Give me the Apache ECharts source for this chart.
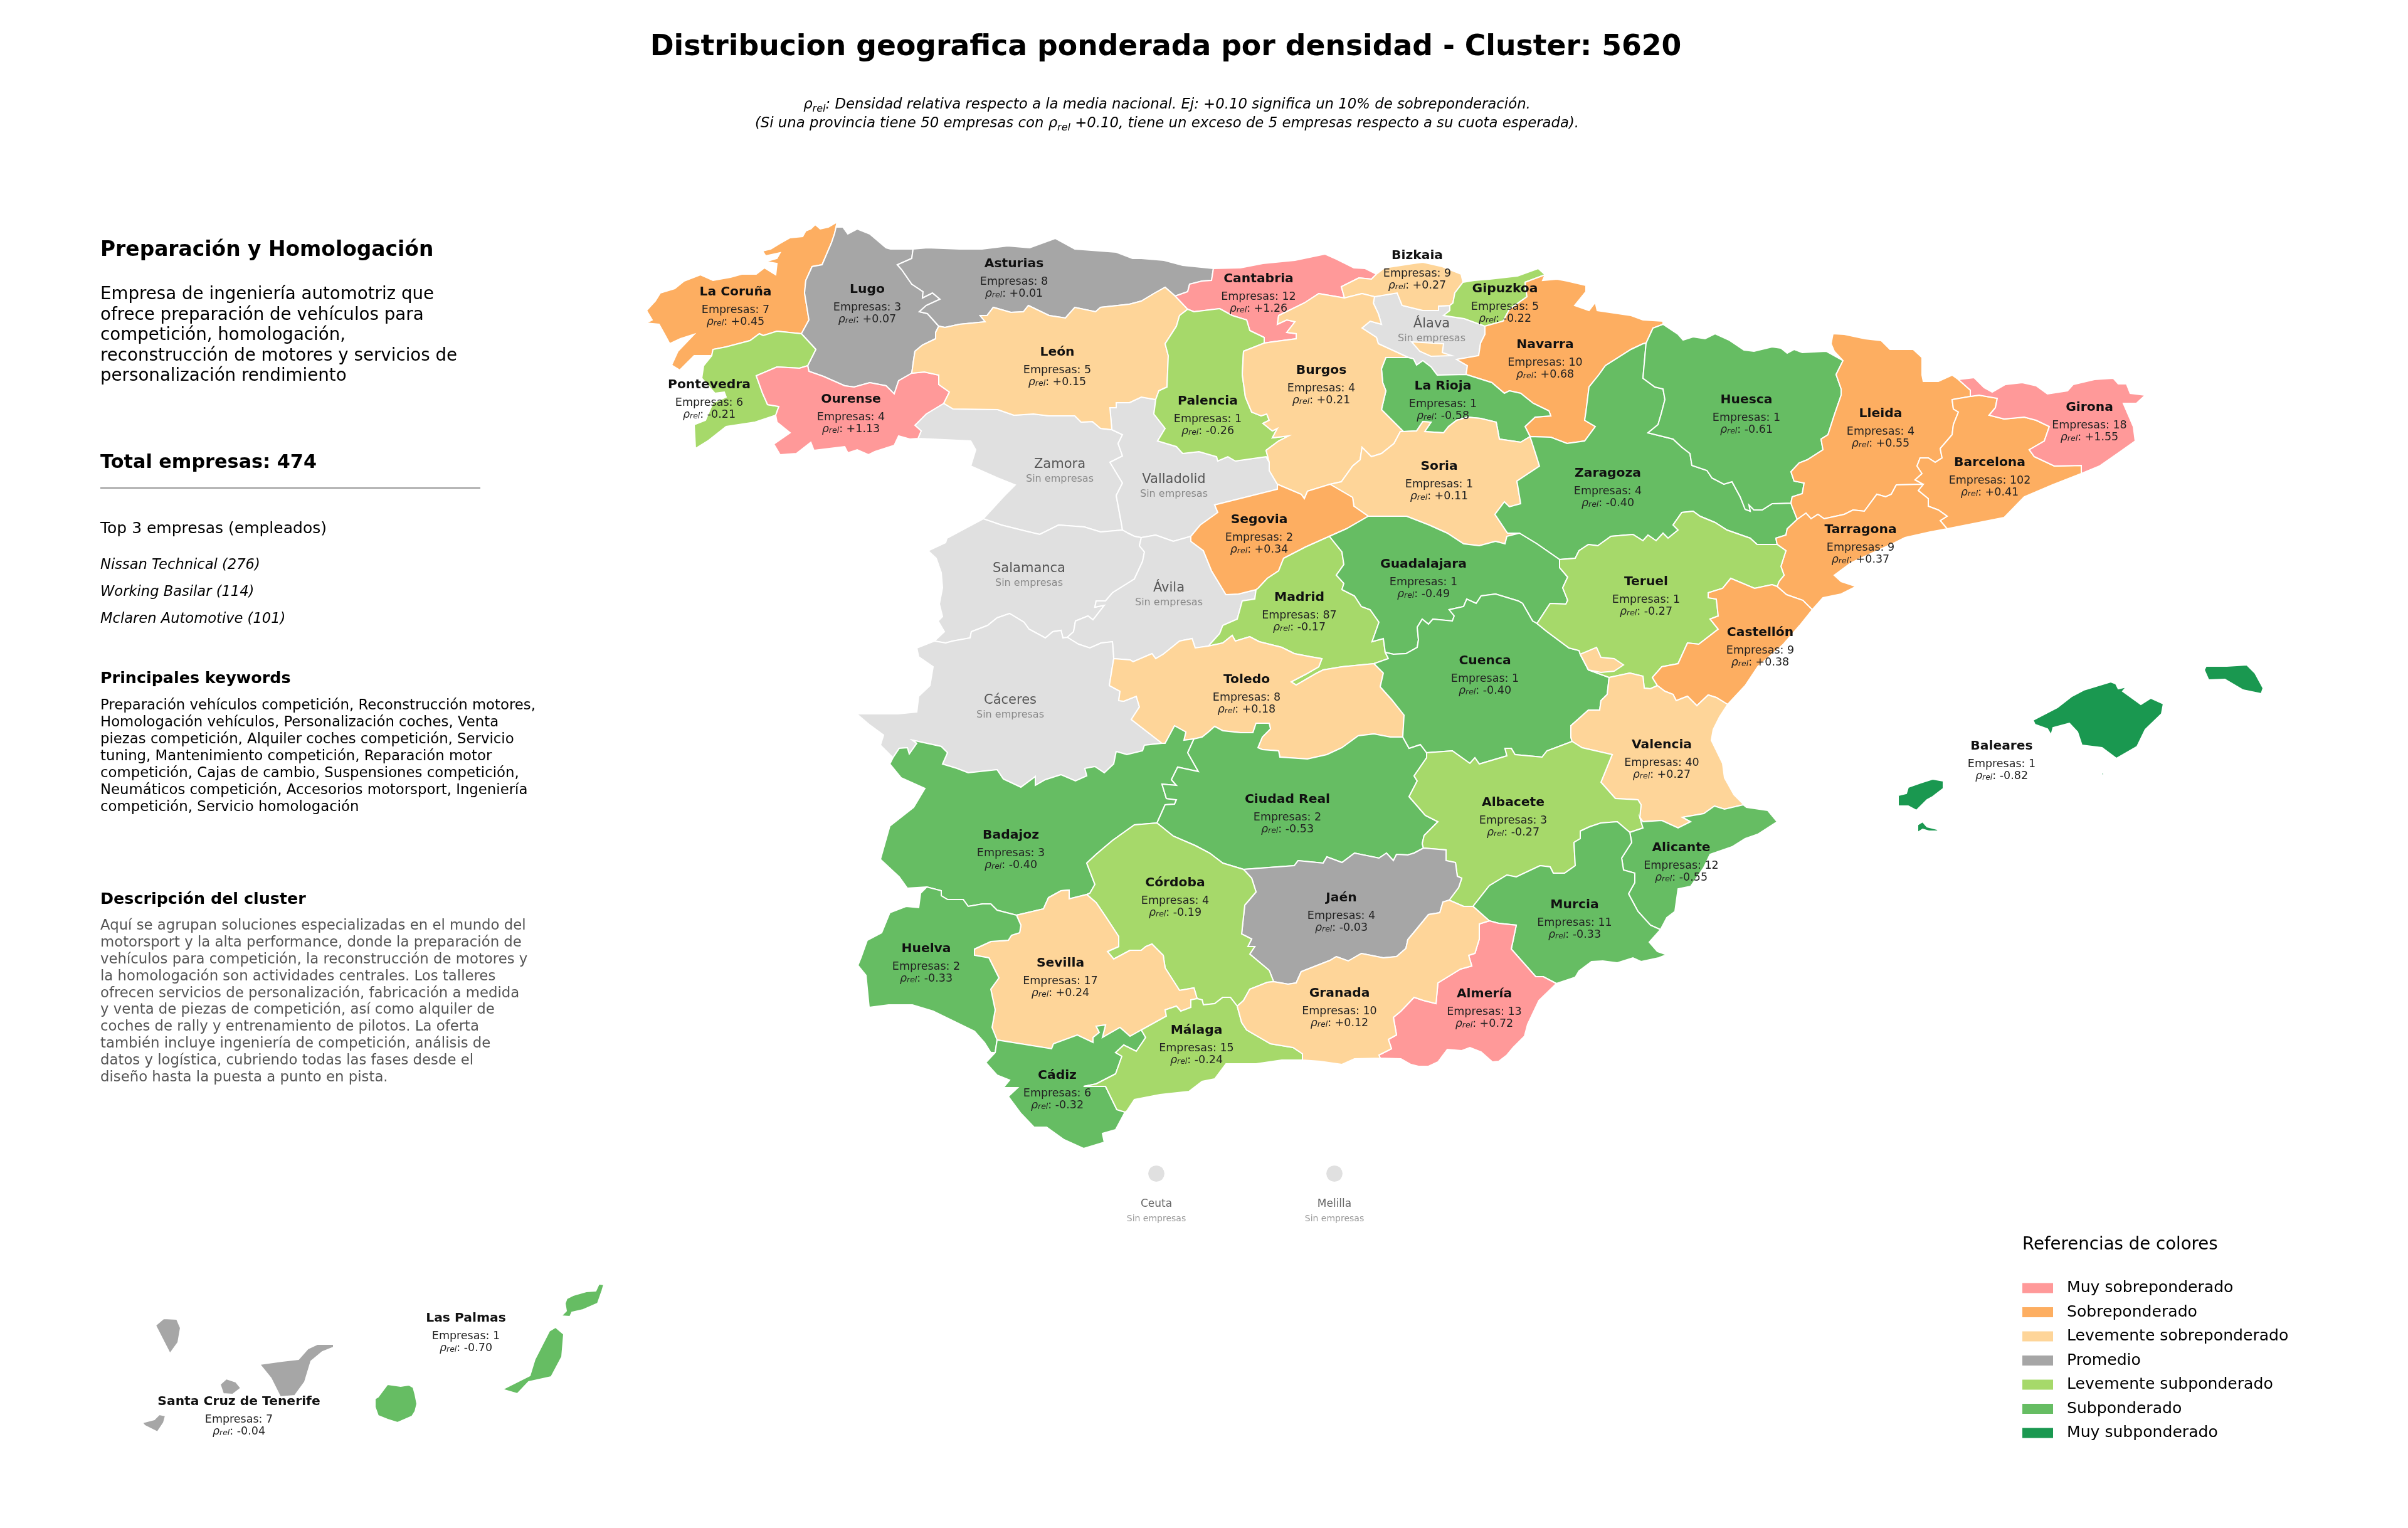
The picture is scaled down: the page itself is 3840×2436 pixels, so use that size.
<!DOCTYPE html>
<html>
<head>
<meta charset="utf-8">
<title>Distribucion geografica</title>
<script src="https://cdn.jsdelivr.net/npm/echarts@6/dist/echarts.min.js"></script>
<style>html,body{margin:0;padding:0;background:#fff}#chart{width:3840px;height:2436px}</style>
</head>
<body>
<div id="chart"></div>
<script>
const provinces = ['Álava','Zamora','Valladolid','Salamanca','Ávila','Cáceres','La Coruña','Lugo','Pontevedra','Ourense','Asturias','León','Cantabria','Bizkaia','Gipuzkoa','Navarra','La Rioja','Palencia','Burgos','Soria','Zaragoza','Huesca','Lleida','Barcelona','Girona','Tarragona','Segovia','Madrid','Guadalajara','Toledo','Badajoz','Ciudad Real','Cuenca','Teruel','Castellón','Valencia','Albacete','Alicante','Murcia','Almería','Jaén','Córdoba','Sevilla','Huelva','Cádiz','Málaga','Granada','Baleares','Las Palmas','Santa Cruz de Tenerife','Ceuta','Melilla'];
const empresas = [null,null,null,null,null,null,7,3,6,4,8,5,12,9,5,10,1,1,4,1,4,1,4,102,18,9,2,87,1,8,3,2,1,1,9,40,3,12,11,13,4,4,17,2,6,15,10,1,1,7,null,null];
const rhoRel = [null,null,null,null,null,null,0.45,0.07,-0.21,1.13,0.01,0.15,1.26,0.27,-0.22,0.68,-0.58,-0.26,0.21,0.11,-0.40,-0.61,0.55,0.41,1.55,0.37,0.34,-0.17,-0.49,0.18,-0.40,-0.53,-0.40,-0.27,0.38,0.27,-0.27,-0.55,-0.33,0.72,-0.03,-0.19,0.24,-0.33,-0.32,-0.24,0.12,-0.82,-0.70,-0.04,null,null];

const bandLabels = ['Muy sobreponderado','Sobreponderado','Levemente sobreponderado','Promedio','Levemente subponderado','Subponderado','Muy subponderado'];
const bandColors = ['#ff9999','#fdae61','#fed599','#a6a6a6','#a6d96a','#66bd63','#1a9850'];
const bandFloors = [0.7,0.3,0.1,-0.1,-0.3,-0.7,null];

const titleText = 'Distribucion geografica ponderada por densidad - Cluster: 5620';
const clusterName = 'Preparación y Homologación';
const clusterIntro = ['Empresa de ingeniería automotriz que','ofrece preparación de vehículos para','competición, homologación,','reconstrucción de motores y servicios de','personalización rendimiento'];
const totalText = 'Total empresas: 474';
const topHeader = 'Top 3 empresas (empleados)';
const topCompanies = ['Nissan Technical (276)','Working Basilar (114)','Mclaren Automotive (101)'];
const keywordLines = ['Preparación vehículos competición, Reconstrucción motores,','Homologación vehículos, Personalización coches, Venta','piezas competición, Alquiler coches competición, Servicio','tuning, Mantenimiento competición, Reparación motor','competición, Cajas de cambio, Suspensiones competición,','Neumáticos competición, Accesorios motorsport, Ingeniería','competición, Servicio homologación'];
const descLines = ['Aquí se agrupan soluciones especializadas en el mundo del','motorsport y la alta performance, donde la preparación de','vehículos para competición, la reconstrucción de motores y','la homologación son actividades centrales. Los talleres','ofrecen servicios de personalización, fabricación a medida','y venta de piezas de competición, así como alquiler de','coches de rally y entrenamiento de pilotos. La oferta','también incluye ingeniería de competición, análisis de','datos y logística, cubriendo todas las fases desde el','diseño hasta la puesta a punto en pista.'];

// province outlines, traced in picture pixels; shared borders are kept once
const arcs = {
coru_coast:'1335,354 1321,362 1308,365 1300,358 1293,365 1285,368 1280,377 1260,379 1244,388 1229,397 1216,400 1221,408 1244,403 1239,412 1221,417 1239,420 1237,438 1219,427 1206,437 1183,437 1165,442 1137,447 1117,438 1091,448 1076,460 1053,467 1045,480 1031,495 1040,510 1030,515 1051,517 1061,535 1068,548 1085,540 1107,533 1081,560 1071,582 1084,590 1107,567 1135,567',
coru_pont:'1135,567 1137,557 1158,553 1196,543 1211,532 1217,535 1239,528 1278,532',
coru_lugo:'1278,532 1290,510 1283,467 1285,447 1295,425 1311,422 1326,387 1331,372 1335,354',
lugo_coast:'1335,354 1334,362 1344,362 1352,373 1367,365 1387,373 1413,395 1420,397 1456,397',
lugo_ast:'1456,397 1454,412 1431,422 1438,430 1454,453 1472,465 1471,475 1487,467 1499,477 1477,487 1466,497 1479,500 1497,520',
lugo_leon:'1497,520 1492,530 1492,540 1471,550 1459,560 1456,580 1454,595',
lugo_our:'1454,595 1433,607 1426,628 1413,615 1387,610 1362,617 1347,615 1313,600 1290,592 1288,583',
lugo_pont:'1288,583 1301,557 1278,532',
pont_coast:'1135,567 1122,583 1119,603 1140,627 1155,625 1158,633 1137,642 1125,670 1107,677 1109,715 1130,702 1158,680 1204,673 1237,662',
pont_our:'1237,662 1242,648 1224,645 1216,627 1206,599 1239,585 1275,587 1288,583',
our_leon:'1454,595 1474,593 1497,598 1497,613 1514,625 1505,643',
our_zam:'1505,643 1477,660 1459,678 1469,687 1464,699',
our_south:'1464,699 1451,700 1433,695 1426,710 1395,720 1385,725 1367,717 1352,722 1347,712 1298,718 1293,705 1270,723 1244,725 1234,708 1260,690 1239,673 1237,662',
ast_coast:'1456,397 1479,395 1530,397 1566,397 1607,392 1642,395 1683,380 1714,397 1780,402 1806,412 1820,412 1856,415 1886,423 1935,428',
ast_cant:'1935,428 1932,447 1917,448 1897,453 1894,465 1874,472',
ast_leon:'1874,472 1858,458 1840,468 1820,480 1801,485 1755,490 1747,497 1714,490 1699,507 1673,503 1640,487 1632,497 1612,498 1584,490 1574,503 1563,503 1571,513 1530,517 1507,522 1497,520',
leon_cant:'1874,472 1894,493',
leon_pal:'1894,493 1881,503 1876,520 1858,548 1863,567 1861,617 1848,623 1843,637',
leon_vll:'1843,637 1820,633 1801,642 1780,642 1780,650 1770,650 1773,685',
leon_zam:'1773,685 1755,683 1742,672 1724,673 1714,663 1673,663 1648,660 1617,662 1591,653 1520,652 1505,643',
zam_west:'1464,699 1548,703 1556,717 1548,743 1591,762 1619,773 1602,790 1568,827',
zam_sal:'1568,827 1597,837 1637,847 1658,852 1688,837 1729,840 1755,848 1790,845',
zam_vll:'1773,685 1790,693 1783,707 1790,727 1770,737 1790,770 1780,790 1788,833 1790,845',
sal_west:'1568,827 1510,858 1508,865 1480,878 1493,890 1501,913 1503,937 1498,963 1503,983 1496,990 1506,1007 1490,1022',
sal_cac:'1490,1022 1508,1025 1519,1022 1547,1017 1549,1007 1575,997 1590,985 1610,978 1633,992 1641,1003 1667,1017 1679,1007 1692,1005 1695,1017 1702,1016',
sal_avi:'1702,1016 1712,1007 1715,990 1735,982 1743,988 1761,965 1746,968 1748,958 1763,958 1774,945 1809,923 1822,895 1825,880 1817,870 1820,857',
sal_vll:'1820,857 1809,855 1799,850 1790,845',
vll_pal:'1843,637 1840,660 1858,683 1846,703 1876,712 1886,723 1912,720 1940,728 1942,735 1958,728 1970,735 2019,728 2024,737',
vll_bur:'2024,737 2024,750 2037,772',
vll_seg:'2037,772 2037,780 1937,805 1942,817 1914,837 1899,855',
vll_avi:'1899,855 1871,863 1843,853 1820,857',
avi_seg:'1899,855 1899,863 1919,878 1932,910 1955,948 1975,947 2003,940',
avi_mad:'2003,940 2001,955 1981,958 1973,987 1950,997 1945,1010 1927,1030',
avi_tol:'1927,1030 1906,1033 1901,1018 1881,1022 1855,1043 1843,1050 1837,1042 1807,1055 1802,1052 1776,1050',
avi_cac:'1776,1050 1774,1023 1756,1025 1738,1033 1720,1027 1702,1016',
cac_west:'1490,1022 1462,1033 1465,1047 1488,1063 1483,1093 1465,1110 1462,1135 1432,1138 1366,1138 1386,1155 1409,1172 1404,1188 1424,1208',
cac_bad:'1424,1208 1434,1193 1447,1192 1450,1202 1462,1185 1455,1180 1501,1190 1511,1200 1503,1218 1526,1225 1544,1232 1590,1227 1600,1242 1628,1255 1651,1238 1651,1252 1667,1243 1692,1235 1715,1245 1733,1237 1730,1225 1746,1222 1761,1232 1776,1218 1780,1198 1797,1203 1822,1197 1825,1188 1853,1185',
cac_tol:'1853,1185 1804,1147 1817,1127 1812,1110 1792,1118 1784,1117 1786,1102 1769,1093 1776,1050',
tol_bad:'1853,1185 1858,1185 1873,1157 1891,1167 1888,1180 1904,1178',
tol_cr:'1904,1178 1917,1175 1927,1167 1937,1158 1950,1165 1978,1168 1998,1168 2003,1153 2024,1153 2026,1162 2013,1175 2006,1192 2013,1195 2039,1197 2041,1207 2085,1210 2116,1203 2140,1192 2166,1173 2191,1170 2217,1175 2237,1175',
tol_cue:'2237,1175 2239,1140 2219,1115 2201,1095 2206,1073 2191,1058',
tol_mad:'2191,1058 2140,1063 2110,1068 2100,1073 2067,1092 2059,1087 2082,1075 2103,1063 2108,1050 2090,1047 2064,1042 2044,1032 2008,1023 1993,1015 1970,1022 1965,1013 1950,1025 1927,1030',
bad_west:'1424,1208 1419,1218 1437,1240 1475,1257 1457,1287 1419,1317 1404,1370 1434,1398 1447,1416 1478,1414',
bad_cr:'1904,1178 1894,1200 1911,1230 1878,1223 1868,1243 1876,1252 1853,1250 1860,1273 1876,1275 1873,1282 1858,1283 1845,1312',
bad_cor:'1845,1312 1809,1315 1774,1340 1748,1362 1733,1376 1746,1410 1738,1424 1733,1426',
bad_sev:'1733,1426 1705,1433 1705,1419 1692,1420 1672,1431 1664,1449 1621,1459',
bad_hue:'1621,1459 1590,1451 1580,1441 1567,1441 1544,1445 1536,1434 1511,1434 1501,1428 1501,1420 1478,1414',
cr_alb:'2270,1352 2268,1345 2271,1332 2293,1310 2273,1300 2247,1270 2260,1245 2255,1237 2275,1208 2275,1200',
cr_cue:'2237,1175 2247,1193 2265,1187 2275,1200',
cr_jaen:'2270,1352 2255,1360 2245,1363 2227,1362 2222,1372 2211,1360 2199,1368 2160,1360 2140,1375 2116,1366 2110,1376 2070,1372 2064,1380 1983,1386',
cr_cor:'1983,1386 1950,1376 1929,1360 1906,1348 1871,1333 1845,1312',
cor_jaen:'1983,1386 1996,1400 2003,1422 1985,1443 1980,1489 1996,1497 1990,1509 2001,1509 1993,1521 2024,1547 2031,1565',
cor_gra:'2031,1565 2021,1566 1993,1577 1983,1595 1973,1604',
cor_mal:'1973,1604 1962,1590 1950,1590 1937,1600 1919,1602 1917,1594 1909,1592',
cor_sev:'1909,1592 1904,1575 1881,1579 1858,1543 1855,1523 1837,1505 1827,1509 1820,1515 1802,1515 1776,1529 1766,1517 1784,1509 1784,1493 1763,1461 1748,1439 1733,1426',
sev_hue:'1621,1459 1628,1475 1626,1487 1613,1491 1608,1499 1580,1501 1554,1513 1554,1523 1577,1527 1593,1559 1580,1577 1587,1610 1582,1638 1590,1658',
sev_cad:'1590,1658 1677,1672 1680,1664 1718,1650 1743,1662 1743,1654 1753,1646 1748,1636 1763,1634 1758,1654 1786,1638 1802,1652 1820,1642',
sev_mal:'1820,1642 1860,1620 1858,1610 1876,1604 1883,1612 1899,1606 1899,1594 1909,1592',
hue_coast:'1478,1414 1468,1424 1465,1447 1445,1445 1419,1455 1406,1487 1383,1499 1373,1527 1368,1539 1381,1555 1386,1606 1417,1602 1455,1602 1488,1612 1554,1644 1570,1662 1580,1678 1587,1678',
hue_cad:'1587,1678 1590,1658',
cad_coast:'1587,1678 1572,1694 1590,1714 1610,1722 1600,1734 1623,1734 1608,1748 1628,1775 1649,1797 1669,1797 1697,1817 1728,1831 1761,1821 1758,1807 1779,1801 1794,1773',
cad_mal:'1794,1773 1781,1769 1763,1732 1728,1732 1748,1728 1779,1712 1789,1684 1779,1678 1792,1666 1812,1676 1827,1654 1820,1642',
mal_gra:'1973,1604 1980,1630 1988,1642 2026,1664 2062,1670 2077,1680 2077,1690',
mal_coast:'2077,1690 2044,1690 2003,1696 1955,1696 1937,1720 1917,1724 1896,1740 1850,1745 1809,1753 1797,1771 1794,1773',
gra_jaen:'2031,1565 2054,1569 2067,1567 2075,1549 2121,1531 2131,1525 2150,1532 2171,1520 2206,1527 2227,1525 2242,1512 2245,1498 2260,1480 2278,1458 2296,1455 2301,1438 2311,1435',
gra_alb:'2311,1435 2334,1445 2349,1445',
gra_mur:'2349,1445 2375,1468',
gra_alm:'2375,1468 2359,1473 2359,1497 2352,1520 2342,1523 2347,1540 2329,1545 2293,1567 2290,1600 2270,1595 2255,1590 2234,1612 2222,1622 2227,1650 2214,1657 2219,1672 2199,1682 2201,1687',
gra_coast:'2201,1687 2160,1688 2140,1697 2105,1692 2077,1690',
jaen_alb:'2270,1352 2306,1355 2306,1372 2321,1375 2324,1397 2331,1400 2326,1415 2311,1435',
alm_mur:'2375,1468 2390,1472 2418,1475 2410,1513 2449,1557 2461,1557 2482,1568',
alm_coast:'2482,1568 2454,1595 2436,1633 2431,1652 2413,1670 2403,1682 2390,1692 2380,1693 2362,1677 2344,1670 2331,1675 2308,1673 2293,1693 2278,1700 2262,1700 2250,1697 2234,1688 2201,1687',
mur_alb:'2349,1445 2375,1412 2403,1395 2418,1398 2456,1380 2472,1382 2477,1392 2495,1392 2512,1380 2510,1343 2520,1337 2520,1325 2535,1318 2553,1312 2579,1310 2599,1327',
mur_ali:'2599,1327 2602,1343 2586,1368 2589,1387 2607,1392 2607,1407 2597,1425 2612,1453 2632,1475 2648,1482',
mur_coast:'2648,1482 2630,1502 2643,1517 2658,1522 2645,1527 2617,1533 2604,1527 2579,1535 2556,1532 2538,1533 2518,1548 2512,1558 2482,1568',
ali_alb:'2599,1327 2620,1320 2615,1303',
ali_vlc:'2615,1303 2620,1310 2650,1308 2676,1320 2696,1310 2683,1303 2717,1297 2734,1285 2750,1290 2780,1283 2785,1287',
ali_coast:'2785,1287 2819,1292 2834,1310 2803,1330 2783,1337 2762,1350 2727,1362 2717,1383 2696,1413 2676,1417 2671,1453 2658,1463 2648,1482',
cue_alb:'2275,1200 2316,1197 2344,1217 2352,1208 2359,1218 2403,1205 2400,1193 2410,1193 2416,1203 2459,1207 2467,1197 2507,1182',
alb_vlc:'2507,1182 2523,1192 2571,1203 2553,1247 2576,1273 2612,1275 2617,1283 2615,1303',
cue_vlc:'2566,1080 2563,1107 2553,1117 2551,1132 2533,1132 2505,1157 2505,1175 2507,1182',
gua_cue:'2209,1040 2222,1043 2242,1042 2260,1032 2262,1020 2260,1000 2268,987 2278,995 2285,987 2316,990 2319,982 2311,972 2334,967 2339,955 2354,962 2362,950 2385,947 2421,958 2428,962 2444,990 2451,994',
mad_cue:'2209,1040 2214,1050 2191,1058',
cue_ter:'2451,994 2467,1007 2502,1033 2518,1037 2520,1043 2533,1068 2566,1080',
mad_gua:'2120,855 2140,880 2143,900 2131,917 2143,930 2140,940 2160,950 2171,967 2185,972 2199,992 2188,1023 2206,1018 2209,1040',
seg_gua:'2120,855 2147,843 2182,823',
sor_gua:'2182,823 2243,823 2279,837 2308,850 2334,867 2359,870 2385,863 2400,867 2403,855 2423,850',
gua_zar:'2423,850 2451,867 2487,892',
gua_ter:'2487,892 2487,905 2500,920 2492,937 2500,957 2497,963 2472,962 2451,994',
seg_mad:'2003,940 2006,938 2021,922 2039,910 2047,890 2082,872 2120,855',
seg_sor:'2121,772 2157,793 2159,807 2182,823',
seg_bur:'2037,772 2075,788 2080,795 2085,783 2121,772',
sor_bur:'2121,772 2139,768 2157,743 2169,733 2172,713 2187,728 2203,723 2223,707 2233,688 2238,688',
sor_rio:'2238,688 2259,687 2269,672 2282,673 2272,688 2302,690 2310,680 2323,670 2340,665 2361,667 2386,673 2391,700 2425,705 2440,696',
sor_zar:'2440,696 2450,727 2455,743 2419,767 2425,803 2407,808 2399,800 2384,820 2404,850 2423,850',
bur_rio:'2238,688 2203,653 2210,623 2205,610 2203,588 2210,570 2246,570',
bur_ala:'2246,570 2198,548 2195,538 2172,523 2185,512 2203,517 2198,500 2190,483 2192,473',
bur_biz:'2192,473 2172,468 2144,475',
bur_can:'2144,475 2103,468 2080,483 2039,503 2037,517 2052,510 2065,513 2052,530 2067,532 2067,540 2029,545 2016,547',
bur_pal:'2016,547 1983,560 1981,597 1986,633 1996,657 2011,663 2020,660 2024,670 2014,675 2029,687 2037,683 2029,698 2055,695 2039,703 2019,718 2024,737',
can_coast:'1935,428 1978,427 2014,420 2065,415 2113,405 2131,413 2159,427 2177,428 2195,437',
can_biz:'2195,437 2187,445 2167,443 2139,457 2144,475',
can_pal:'1894,493 1904,497 1945,492 1965,503 1988,510 1993,527 2016,538 2016,547',
biz_coast:'2195,437 2208,427 2254,420 2269,418 2300,425 2330,437 2333,450',
biz_gip:'2333,450 2320,467 2317,483 2312,487',
biz_ala:'2312,487 2294,488 2294,495 2269,495 2236,487 2228,467 2192,473',
gip_coast:'2333,450 2351,447 2376,445 2420,440 2453,428 2464,438',
gip_nav:'2464,438 2432,450 2435,473 2407,493 2397,512 2368,520',
gip_ala:'2368,520 2335,508 2302,503 2312,495 2312,487',
ala_nav:'2368,520 2368,533 2361,547 2358,567 2323,573 2340,583 2338,597',
ala_rio:'2338,597 2292,598 2282,585 2269,575 2259,582 2254,572 2246,570',
nav_coast:'2464,438 2460,447 2483,445 2499,448 2529,455 2529,465 2511,487 2534,495 2544,482 2547,495 2601,503 2620,510 2652,512 2652,517',
nav_hue:'2652,517 2636,523 2625,547',
nav_zar:'2625,547 2620,548 2601,557 2560,583 2550,597 2534,617 2529,657 2527,670 2544,680 2527,703 2499,707 2473,697 2440,696',
nav_rio:'2440,696 2432,680 2448,665 2473,663 2470,655 2445,643 2425,627 2407,623 2399,627 2379,610 2338,597',
hue_zar:'2625,547 2622,580 2620,603 2639,617 2652,620 2655,637 2649,660 2644,677 2628,690 2668,700 2682,713 2695,723 2698,742 2722,750 2730,762 2749,772 2762,768 2775,792 2783,812 2791,815 2789,805 2797,813 2810,813 2826,803 2856,802',
hue_top:'2652,517 2676,533 2684,542 2700,537 2719,540 2735,532 2757,542 2781,558 2797,560 2826,553 2840,555 2850,563 2861,557 2874,562 2912,560 2939,575',
hue_lle:'2939,575 2928,597 2936,620 2936,630 2925,662 2915,693 2904,700 2907,717 2882,733 2869,738 2856,752 2861,767 2877,770 2874,787 2858,792 2856,802',
zar_lle:'2856,802 2858,808 2866,828',
zar_tar:'2866,828 2850,843 2848,853 2832,858 2834,868',
zar_ter:'2487,892 2512,890 2518,878 2533,868 2548,870 2569,855 2604,852 2620,862 2628,853 2641,862 2652,850 2660,858 2676,845 2668,837 2682,817 2700,815 2711,823 2735,833 2754,845 2791,858 2802,868 2834,868',
ter_tar:'2834,868 2848,878 2840,903 2845,917 2837,927 2834,935',
ter_cas:'2834,935 2826,932 2798,938 2760,922 2747,938 2724,945 2724,953 2737,955 2740,982 2727,987 2740,1003 2709,1027 2691,1025 2676,1058 2650,1063 2635,1080 2643,1093',
ter_vlc:'2643,1093 2632,1098 2622,1097 2620,1078 2599,1073 2566,1080',
vlc_cas:'2643,1093 2655,1102 2668,1107 2673,1117 2691,1110 2706,1125 2724,1108 2737,1112 2755,1123',
vlc_coast:'2755,1123 2742,1143 2732,1163 2729,1180 2747,1217 2750,1240 2765,1267 2785,1287',
cas_tar:'2834,935 2849,948 2875,957 2890,972',
cas_coast:'2890,972 2870,997 2844,1027 2803,1063 2783,1093 2755,1123',
tar_coast:'3105,843 3078,848 3038,857 3022,865 2952,897 2925,917 2936,927 2960,935 2936,947 2907,953 2890,972',
tar_lle:'2866,828 2880,818 2888,827 2899,820 2909,827 2941,820 2955,813 2973,815 2993,788 3007,792 3016,788 3024,773 3067,772',
tar_bar:'3067,772 3059,782 3075,795 3075,807 3091,813 3105,823 3094,830 3105,843',
lle_top:'2939,575 2925,560 2920,548 2923,532 2941,533 2974,540 3000,543 3014,557 3051,557 3065,570 3065,598 3067,608 3091,608 3113,598 3123,605',
lle_gir:'3123,605 3142,622 3142,632',
lle_bar:'3142,632 3113,637 3115,652 3123,657 3115,677 3113,693 3094,715 3097,730 3086,737 3075,730 3062,730 3057,743 3065,755 3054,765 3067,772',
bar_gir:'3142,632 3156,630 3185,635 3182,650 3172,662 3196,668 3228,665 3247,670 3268,680 3260,703 3236,717 3244,728 3276,743 3319,742 3319,755',
bar_coast:'3319,755 3273,773 3228,792 3196,825 3105,843',
gir_coast:'3123,605 3148,602 3164,618 3177,625 3198,613 3225,610 3247,615 3265,628 3297,623 3306,613 3340,605 3370,603 3378,612 3391,612 3397,627 3421,630 3407,643 3386,643 3402,680 3405,703 3381,720 3348,743 3319,755'
};

// each province: arcs walked in order, a leading minus walks the arc backwards
const outlines = {
'Álava':'bur_ala -biz_ala -gip_ala ala_nav ala_rio',
'Zamora':'-leon_zam zam_vll -zam_sal -zam_west -our_zam',
'Valladolid':'-leon_vll vll_pal vll_bur vll_seg vll_avi sal_vll -zam_vll',
'Salamanca':'sal_west sal_cac sal_avi sal_vll -zam_sal',
'Ávila':'avi_seg avi_mad avi_tol avi_cac sal_avi -vll_avi',
'Cáceres':'cac_west cac_bad cac_tol avi_cac -sal_cac',
'La Coruña':'coru_coast coru_pont coru_lugo',
'Lugo':'lugo_coast lugo_ast lugo_leon lugo_our lugo_pont coru_lugo',
'Pontevedra':'-coru_pont pont_coast pont_our lugo_pont',
'Ourense':'our_leon our_zam our_south pont_our -lugo_our',
'Asturias':'ast_coast ast_cant ast_leon -lugo_ast',
'León':'-ast_leon leon_cant leon_pal leon_vll leon_zam -our_leon -lugo_leon',
'Cantabria':'can_coast can_biz bur_can -can_pal -leon_cant -ast_cant',
'Bizkaia':'biz_coast biz_gip biz_ala bur_biz -can_biz',
'Gipuzkoa':'gip_coast gip_nav gip_ala -biz_gip',
'Navarra':'nav_coast nav_hue nav_zar nav_rio -ala_nav -gip_nav',
'La Rioja':'-bur_rio sor_rio nav_rio ala_rio',
'Palencia':'can_pal bur_pal -vll_pal -leon_pal',
'Burgos':'bur_can bur_pal vll_bur seg_bur sor_bur bur_rio bur_ala bur_biz',
'Soria':'sor_bur sor_rio sor_zar -sor_gua -seg_sor',
'Zaragoza':'-nav_zar hue_zar zar_lle zar_tar -zar_ter -gua_zar -sor_zar',
'Huesca':'hue_top hue_lle -hue_zar -nav_hue',
'Lleida':'lle_top lle_gir lle_bar -tar_lle -zar_lle -hue_lle',
'Barcelona':'bar_gir bar_coast -tar_bar -lle_bar',
'Girona':'gir_coast -bar_gir -lle_gir',
'Tarragona':'tar_lle tar_bar tar_coast -cas_tar -ter_tar -zar_tar',
'Segovia':'-vll_seg seg_bur seg_sor -seg_gua -seg_mad -avi_seg',
'Madrid':'seg_mad mad_gua mad_cue tol_mad -avi_mad',
'Guadalajara':'seg_gua sor_gua gua_zar gua_ter -gua_cue -mad_gua',
'Toledo':'-avi_tol -tol_mad -tol_cue -tol_cr -tol_bad cac_tol',
'Badajoz':'-cac_bad bad_west -bad_hue -bad_sev -bad_cor -bad_cr -tol_bad',
'Ciudad Real':'tol_cr cr_cue -cr_alb cr_jaen cr_cor -bad_cr',
'Cuenca':'gua_cue cue_ter cue_vlc -cue_alb -cr_cue tol_cue -mad_cue',
'Teruel':'zar_ter ter_tar ter_cas ter_vlc -cue_ter -gua_ter',
'Castellón':'cas_tar cas_coast -vlc_cas -ter_cas',
'Valencia':'vlc_cas vlc_coast -ali_vlc -alb_vlc -cue_vlc -ter_vlc',
'Albacete':'cue_alb alb_vlc -ali_alb -mur_alb -gra_alb -jaen_alb cr_alb',
'Alicante':'ali_alb ali_vlc ali_coast -mur_ali',
'Murcia':'mur_alb mur_ali mur_coast -alm_mur -gra_mur',
'Almería':'alm_mur alm_coast -gra_alm',
'Jaén':'-cr_jaen jaen_alb -gra_jaen -cor_jaen',
'Córdoba':'-cr_cor cor_jaen cor_gra cor_mal cor_sev -bad_cor',
'Sevilla':'sev_hue sev_cad sev_mal cor_sev bad_sev',
'Huelva':'hue_coast hue_cad -sev_hue bad_hue',
'Cádiz':'cad_coast cad_mal -sev_cad -hue_cad',
'Málaga':'sev_mal -cor_mal mal_gra mal_coast cad_mal',
'Granada':'gra_jaen gra_alb gra_mur gra_alm gra_coast -mal_gra -cor_gra'
};

// islands and enclaves that do not share a border with anything
const extraPolys = {
'Burgos':['2251,545 2302,548 2300,562 2315,567 2282,568 2264,560'],
'Valencia':['2520,1043 2546,1032 2553,1048 2574,1050 2589,1060 2574,1070 2553,1072 2533,1068'],
'Baleares':[
 '3242,1148 3281,1128 3304,1110 3323,1100 3366,1087 3374,1090 3378,1098 3391,1095 3385,1102 3414,1123 3430,1113 3450,1122 3447,1138 3421,1163 3408,1190 3375,1209 3352,1192 3320,1188 3313,1167 3300,1153 3274,1160 3271,1172 3265,1162 3245,1155',
 '3515,1068 3518,1062 3551,1062 3583,1060 3596,1073 3609,1097 3606,1106 3577,1100 3548,1083 3522,1084',
 '3027,1268 3040,1265 3043,1255 3063,1248 3082,1242 3099,1245 3099,1257 3082,1270 3073,1275 3056,1292 3043,1285 3027,1285',
 '3058,1315 3066,1310 3073,1318 3089,1322 3092,1325 3076,1325 3066,1322 3058,1327',
 '3350,1233 3355,1232 3354,1237'],
'Santa Cruz de Tenerife':[
 '248,2113 261,2102 282,2103 288,2117 284,2140 271,2158',
 '414,2175 450,2170 476,2167 491,2150 506,2143 532,2143 532,2148 514,2155 496,2170 486,2203 470,2225 447,2227 432,2197',
 '351,2207 361,2198 376,2203 384,2213 371,2223 356,2222',
 '227,2268 246,2263 254,2255 264,2257 261,2268 251,2283 231,2273'],
'Las Palmas':[
 '598,2230 603,2227 618,2207 639,2210 652,2208 659,2212 662,2223 665,2238 662,2250 657,2258 634,2268 618,2263 603,2257 598,2243',
 '801,2215 825,2222 843,2203 879,2195 896,2163 899,2127 886,2116 876,2122 853,2167 845,2193',
 '904,2070 914,2065 935,2059 950,2058 955,2047 963,2048 960,2058 953,2078 930,2088 912,2092 909,2099 895,2098 903,2090 901,2078',
 '949,2043 951,2036 952,2040'],
'Ceuta':['1844,1857 1849,1858 1854,1861 1857,1866 1858,1871 1857,1876 1854,1881 1849,1884 1844,1885 1839,1884 1834,1881 1831,1876 1830,1871 1831,1866 1834,1861 1839,1858'],
'Melilla':['2128,1857 2133,1858 2138,1861 2141,1866 2142,1871 2141,1876 2138,1881 2133,1884 2128,1885 2123,1884 2118,1881 2115,1876 2114,1871 2115,1866 2118,1861 2123,1858']
};

// where each province's name sits
const namePoints = {
'La Coruña':[1173,464],'Lugo':[1383,460],'Asturias':[1617,419],'Pontevedra':[1131,612],'Ourense':[1357,635],'León':[1686,560],'Zamora':[1690,741],
'Cantabria':[2007,443],'Bizkaia':[2260,406],'Gipuzkoa':[2400,459],'Álava':[2283,517],'Navarra':[2464,548],'Burgos':[2107,589],'La Rioja':[2301,614],'Palencia':[1926,638],'Valladolid':[1872,765],
'Soria':[2295,742],'Zaragoza':[2564,753],'Segovia':[2008,827],'Huesca':[2785,636],'Lleida':[2999,658],'Barcelona':[3173,736],'Girona':[3332,648],'Tarragona':[2967,843],
'Salamanca':[1641,907],'Ávila':[1864,938],'Madrid':[2072,951],'Cáceres':[1611,1117],'Toledo':[1988,1082],'Badajoz':[1612,1330],'Ciudad Real':[2053,1273],
'Guadalajara':[2270,898],'Teruel':[2625,926],'Cuenca':[2368,1052],'Castellón':[2807,1007],'Valencia':[2650,1186],'Albacete':[2413,1278],'Alicante':[2681,1350],'Murcia':[2511,1441],'Almería':[2367,1583],
'Baleares':[3192,1188],'Huelva':[1477,1511],'Sevilla':[1691,1534],'Córdoba':[1874,1406],'Jaén':[2139,1430],'Granada':[2136,1582],'Málaga':[1908,1641],'Cádiz':[1686,1713],
'Las Palmas':[743,2100],'Santa Cruz de Tenerife':[381,2233],'Ceuta':[1844,1920],'Melilla':[2128,1920]
};

function parsePts(s){
  return s.split(' ').map(p => p.split(',').map(Number));
}
function walk(list){
  const pts = [];
  list.split(' ').forEach(key => {
    const back = key[0] === '-';
    const seg = parsePts(arcs[back ? key.slice(1) : key]);
    if(back) seg.reverse();
    seg.forEach(p => {
      const last = pts[pts.length - 1];
      if(!last || last[0] !== p[0] || last[1] !== p[1]) pts.push(p);
    });
  });
  return pts;
}
function closed(pts){
  const a = pts[0], b = pts[pts.length - 1];
  return (a[0] === b[0] && a[1] === b[1]) ? pts : pts.concat([a]);
}

let minX = 1e9, minY = 1e9, maxX = -1e9, maxY = -1e9;
const features = provinces.map((name, i) => {
  const polys = [];
  if(outlines[name]) polys.push([closed(walk(outlines[name]))]);
  (extraPolys[name] || []).forEach(s => polys.push([closed(parsePts(s))]));
  polys.forEach(p => p[0].forEach(q => {
    minX = Math.min(minX, q[0]); maxX = Math.max(maxX, q[0]);
    minY = Math.min(minY, q[1]); maxY = Math.max(maxY, q[1]);
  }));
  const pt = namePoints[name];
  const shift = empresas[i] === null ? 10 : 21;
  return {
    type: 'Feature',
    properties: {name: name, cp: [pt[0], pt[1] + shift]},
    geometry: {type: 'MultiPolygon', coordinates: polys}
  };
});
echarts.registerMap('espana', {type: 'FeatureCollection', features: features});

const FONT = '"DejaVu Sans"';
function txt(x, y, text, size, extra){
  return {
    type: 'text', silent: true,
    style: Object.assign({x: x, y: y, text: text, fontFamily: FONT, fontSize: size, fill: '#000', textAlign: 'left', textVerticalAlign: 'middle'}, extra || {})
  };
}
const subRich = {
  i: {fontFamily: FONT, fontStyle: 'italic', fontSize: 22.8, color: '#000', lineHeight: 30},
  s: {fontFamily: FONT, fontStyle: 'italic', fontSize: 16, color: '#000', verticalAlign: 'bottom', lineHeight: 30}
};

const graphics = [
  txt(1861, 167, '{i|ρ}{s|rel}{i|: Densidad relativa respecto a la media nacional. Ej: +0.10 significa un 10% de sobreponderación.}', 22.8, {textAlign: 'center', rich: subRich}),
  txt(1861, 197, '{i|(Si una provincia tiene 50 empresas con ρ}{s|rel}{i| +0.10, tiene un exceso de 5 empresas respecto a su cuota esperada).}', 22.8, {textAlign: 'center', rich: subRich}),
  txt(160, 399, clusterName, 32.9, {fontWeight: 'bold'}),
  txt(160, 738, totalText, 30.3, {fontWeight: 'bold'}),
  {type: 'line', silent: true, shape: {x1: 160, y1: 778, x2: 766, y2: 778}, style: {stroke: '#999', lineWidth: 2}},
  txt(160, 843, topHeader, 25),
  txt(160, 1082, 'Principales keywords', 25.4, {fontWeight: 'bold'}),
  txt(160, 1434, 'Descripción del cluster', 25.4, {fontWeight: 'bold'}),
  txt(3225, 1985, 'Referencias de colores', 27.6)
];
clusterIntro.forEach((s, i) => graphics.push(txt(160, 470 + i * 32.5, s, 27.7)));
topCompanies.forEach((s, i) => graphics.push(txt(160, 901 + i * 43, s, 22.6, {fontStyle: 'italic'})));
keywordLines.forEach((s, i) => graphics.push(txt(160, 1125 + i * 27, s, 22.8)));
descLines.forEach((s, i) => graphics.push(txt(160, 1476 + i * 26.9, s, 22.8, {fill: '#555'})));

const seriesData = provinces.map((name, i) => ({name: name, value: rhoRel[i] === null ? '-' : rhoRel[i]}));

function labelText(params){
  const i = provinces.indexOf(params.name);
  if(empresas[i] === null){
    const tiny = params.name === 'Ceuta' || params.name === 'Melilla';
    return tiny ? `{tn|${params.name}}\n{ts|Sin empresas}` : `{nn|${params.name}}\n{ns|Sin empresas}`;
  }
  const v = rhoRel[i];
  const signed = (v >= 0 ? '+' : '') + v.toFixed(2);
  return `{n|${params.name}}\n{e|Empresas: ${empresas[i]}}\n{p|ρ}{q|rel}{e|: ${signed}}`;
}

const pieces = bandLabels.map((label, i) => {
  const piece = {label: label, color: bandColors[i]};
  if(bandFloors[i] !== null) piece.gte = bandFloors[i];
  if(i > 0) piece.lt = bandFloors[i - 1];
  return piece;
});

const option = {
  animation: false,
  backgroundColor: '#fff',
  title: {
    text: titleText, left: 1854, top: 48, textAlign: 'center',
    textStyle: {fontFamily: FONT, fontSize: 45.7, fontWeight: 'bold', color: '#000'}
  },
  visualMap: {
    type: 'piecewise', seriesIndex: 0, orient: 'vertical', left: 3225, top: 2041,
    inverse: false, selectedMode: false, hoverLink: false, showLabel: true, itemSymbol: 'rect',
    itemWidth: 49, itemHeight: 16, itemGap: 13.5, textGap: 22, padding: 0, align: 'left',
    textStyle: {fontFamily: FONT, fontSize: 25.1, color: '#000'},
    pieces: pieces,
    outOfRange: {color: '#e0e0e0'}
  },
  graphic: graphics,
  series: [{
    type: 'map', map: 'espana', roam: false, silent: true,
    projection: {project: p => [p[0], p[1]], unproject: p => [p[0], p[1]]},
    left: minX, top: minY, width: maxX - minX, height: maxY - minY,
    itemStyle: {areaColor: '#e0e0e0', borderColor: '#fff', borderWidth: 2},
    emphasis: {disabled: true},
    select: {disabled: true},
    selectedMode: false,
    label: {
      show: true, formatter: labelText, fontFamily: FONT, align: 'center',
      rich: {
        n: {fontFamily: FONT, fontSize: 20.3, fontWeight: 'bold', color: '#111', lineHeight: 37},
        e: {fontFamily: FONT, fontSize: 17.5, color: '#222', lineHeight: 19},
        p: {fontFamily: FONT, fontSize: 17.5, fontStyle: 'italic', color: '#222', lineHeight: 19},
        q: {fontFamily: FONT, fontSize: 12.5, fontStyle: 'italic', color: '#222', lineHeight: 19, verticalAlign: 'bottom'},
        nn: {fontFamily: FONT, fontSize: 21, color: '#555', lineHeight: 26},
        ns: {fontFamily: FONT, fontSize: 16, color: '#888', lineHeight: 20},
        tn: {fontFamily: FONT, fontSize: 17, color: '#666', lineHeight: 26},
        ts: {fontFamily: FONT, fontSize: 14, color: '#999', lineHeight: 20}
      }
    },
    data: seriesData
  }]
};

const mChart = echarts.init(document.getElementById('chart'));
mChart.setOption(option);
</script>
</body>
</html>
